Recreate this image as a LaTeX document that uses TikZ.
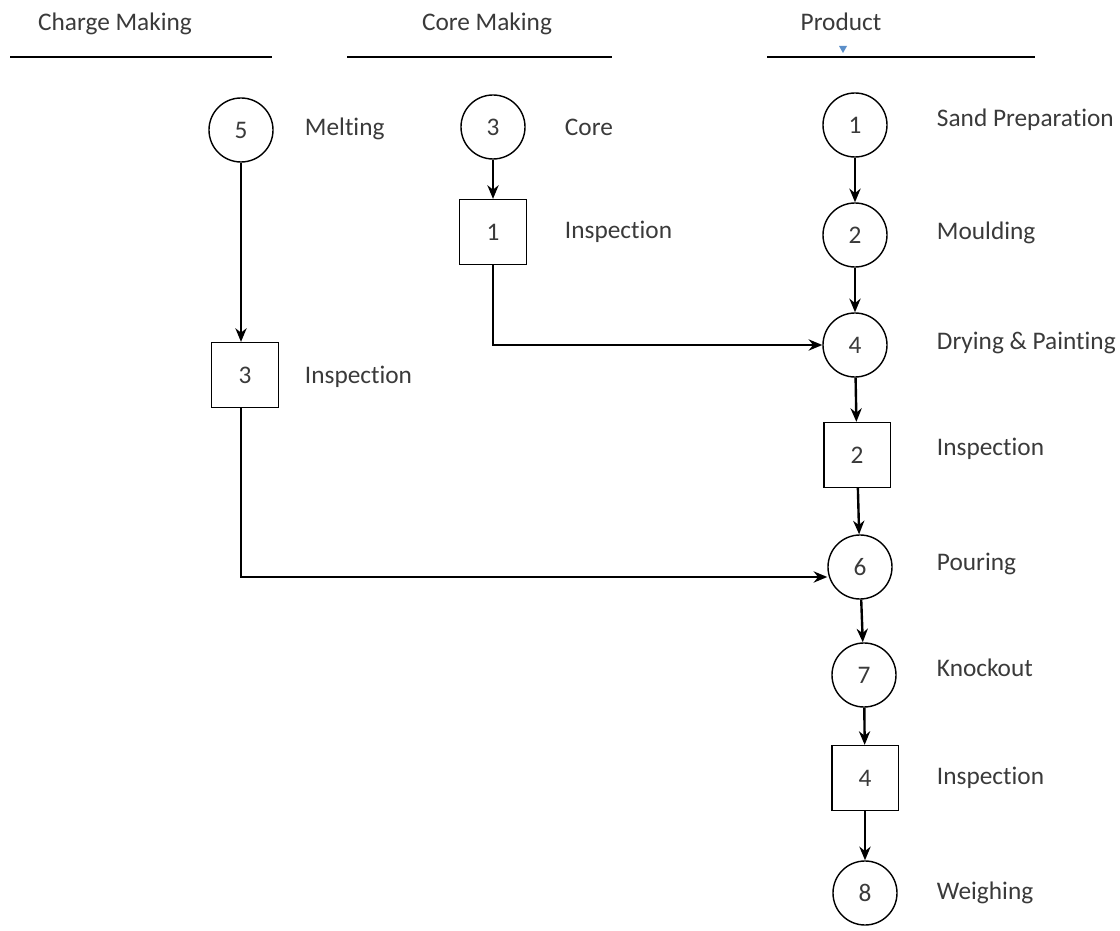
\documentclass[tikz,border=0pt]{standalone}
\usepackage{fontspec}
\setmainfont{Carlito}[RawFeature={-liga,-clig,-calt,-dlig}]
\usepackage{tikz}
\usetikzlibrary{
    positioning,
    arrows.meta
}
\definecolor{textgray}{HTML}{3A3A3A}
\definecolor{anchorblue}{HTML}{5B8FC9}
\tikzset{
    >=Stealth,
    opcirc/.style={
        draw,
        circle,
        line width=1pt,
        minimum size=1.6cm,
        inner sep=0pt,
        text=textgray
    },
    inspbox/.style={
        draw,
        rectangle,
        line width=1pt,
        minimum width=1.66cm,
        minimum height=1.62cm,
        inner sep=0pt,
        text=textgray
    },
    lbl/.style={
        anchor=west,
        text=textgray
    },
    flow/.style={
        ->,
        line width=1.7pt,
        >={Stealth[length=3.4mm,width=2.8mm]}
    }
}

\begin{document}
\begin{tikzpicture}[
    x=0.025cm,
    y=-0.025cm,
    font=\fontsize{18}{22}\selectfont
]

    \useasboundingbox (0,0) rectangle (1120,931);

    % Encabezados
    \node[text=textgray] (hcharge) at (115,24)  {Charge Making};
    \node[text=textgray] (hcore)   at (487,24)  {Core Making};
    \node[text=textgray] (hprod)   at (841,22)  {Product};
    \draw[line width=1pt] (10,57)  -- (272,57);
    \draw[line width=1pt] (347,57) -- (612,57);
    \draw[line width=1pt] (767,57) -- (1035,57);
    \fill[anchorblue] (839,46) -- (847,46) -- (843,53) -- cycle;

    % Operaciones e inspecciones
    \node[opcirc]  (m5) at (241,130) {5};
    \node[inspbox] (i3) at (245,375) {3};

    \node[opcirc]  (c3) at (493,127) {3};
    \node[inspbox] (i1) at (493,232) {1};

    \node[opcirc]  (p1) at (855,125) {1};
    \node[opcirc]  (p2) at (855,235) {2};
    \node[opcirc]  (p4) at (855,345) {4};
    \node[inspbox] (i2) at (857,455) {2};
    \node[opcirc]  (p6) at (860,567) {6};
    \node[opcirc]  (p7) at (864,675) {7};
    \node[inspbox] (i4) at (865,778) {4};
    \node[opcirc]  (p8) at (865,893) {8};

    % Etiquetas
    \node[lbl] at (300,129) {Melting};
    \node[lbl] at (300,377) {Inspection};
    \node[lbl] at (560,127) {Core};
    \node[lbl] at (560,232) {Inspection};
    \node[lbl] at (932,120) {Sand Preparation};
    \node[lbl] at (932,233) {Moulding};
    \node[lbl] at (932,343) {Drying \& Painting};
    \node[lbl] at (932,449) {Inspection};
    \node[lbl] at (932,564) {Pouring};
    \node[lbl] at (932,668) {Knockout};
    \node[lbl] at (932,778) {Inspection};
    \node[lbl] at (932,893) {Weighing};

    % Flujos
    \path[flow]
        (m5) edge (m5 |- i3.north)
        (c3) edge (i1)
        (p1) edge (p2)
        (p2) edge (p4)
        (p4) edge (i2)
        (i2) edge (p6)
        (p6) edge (p7)
        (p7) edge (i4)
        (i4) edge (p8);

    \draw[flow] (i1.south) |- (p4.west);
    \draw[flow] (m5 |- i3.south) |- ([yshift=-0.25cm]p6.west);

\end{tikzpicture}
\end{document}
